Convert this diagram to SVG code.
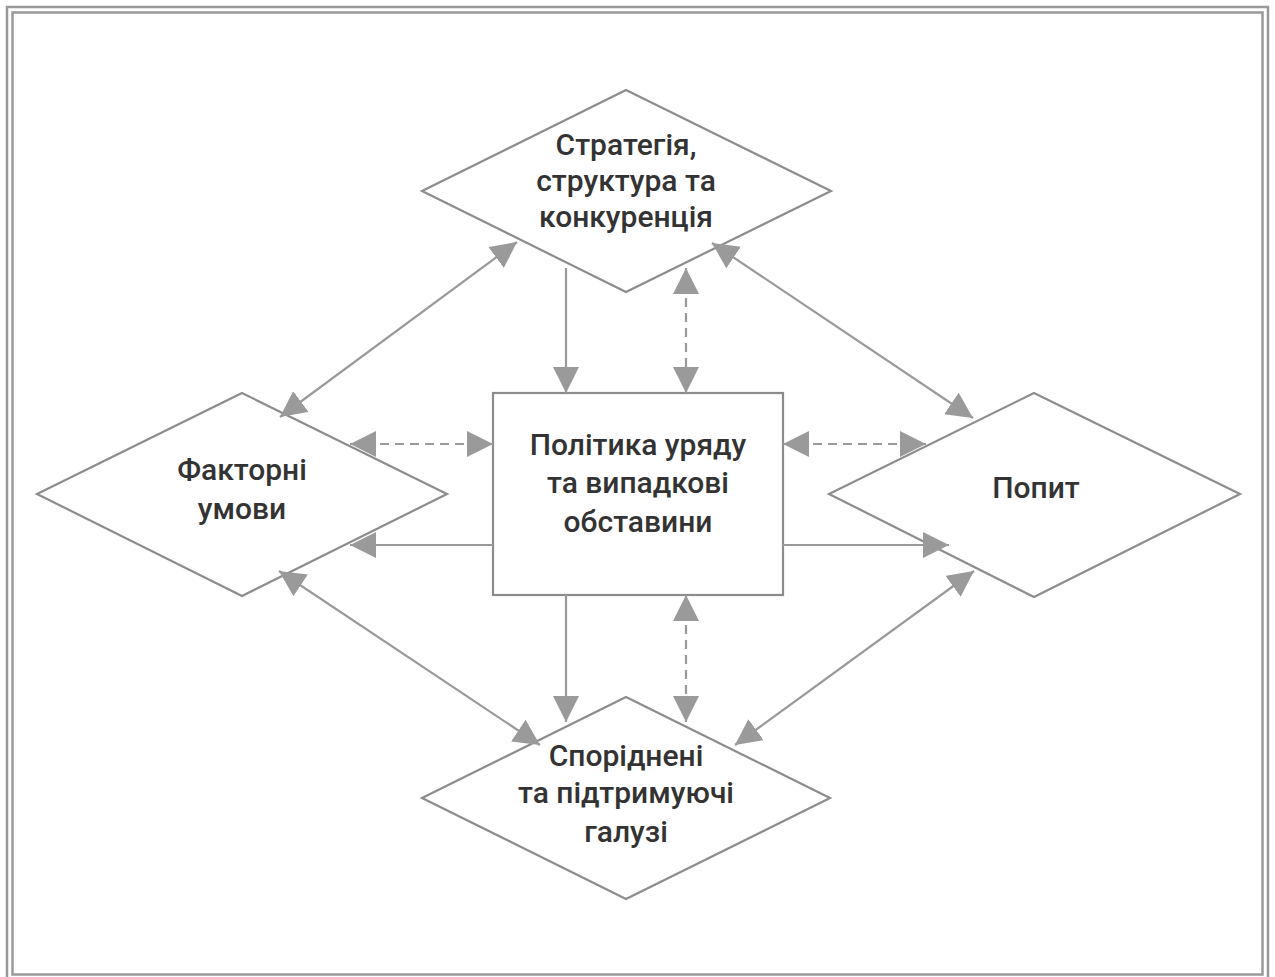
<svg xmlns="http://www.w3.org/2000/svg" width="1275" height="977" viewBox="0 0 1275 977">
  <style>
    .frame { fill: none; stroke: #999999; stroke-width: 2.5; }
    .shape { fill: #ffffff; stroke: #8c8c8c; stroke-width: 2.2; }
    .link { fill: none; stroke: #9a9a9a; stroke-width: 2.2; }
    .dash { stroke-dasharray: 9 6; }
    .label { font-family: Roboto, "Liberation Sans", sans-serif; font-size: 30px; font-weight: 500; fill: #333333; text-anchor: middle; }
  </style>
  <defs>
    <marker id="head" markerUnits="userSpaceOnUse" markerWidth="26" markerHeight="26" viewBox="0 0 26 26" refX="26" refY="13" orient="auto-start-reverse">
      <path d="M0,0 L26,13 L0,26 Z" fill="#9a9a9a"/>
    </marker>
  </defs>

  <rect width="1275" height="977" fill="#ffffff"/>

  <!-- double border -->
  <rect class="frame" x="7" y="7" width="1261" height="975"/>
  <rect class="frame" x="12.5" y="12.5" width="1250" height="962"/>

  <g id="strategy">
    <polygon class="shape" points="626,90 831,191 626,292 422,191"/>
    <text class="label" x="626" y="155">Стратегія,</text>
    <text class="label" x="626" y="191">структура та</text>
    <text class="label" x="626" y="227">конкуренція</text>
  </g>

  <g id="factors">
    <polygon class="shape" points="242,393 447,494 242,596 37,494"/>
    <text class="label" x="242" y="480">Факторні</text>
    <text class="label" x="242" y="519">умови</text>
  </g>

  <g id="demand">
    <polygon class="shape" points="1034,393 1240,494 1034,597 829,494"/>
    <text class="label" x="1036" y="498">Попит</text>
  </g>

  <g id="related">
    <polygon class="shape" points="626,697 830,798 626,899 422,798"/>
    <text class="label" x="626" y="766">Споріднені</text>
    <text class="label" x="626" y="803">та підтримуючі</text>
    <text class="label" x="626" y="842">галузі</text>
  </g>

  <g id="government">
    <rect class="shape" x="493" y="393" width="290" height="202"/>
    <text class="label" x="638" y="455">Політика уряду</text>
    <text class="label" x="638" y="493">та випадкові</text>
    <text class="label" x="638" y="532">обставини</text>
  </g>

  <g id="connectors">
    <!-- strategy to government -->
    <line class="link" x1="566" y1="268" x2="566" y2="393" marker-end="url(#head)"/>
    <line class="link dash" x1="686" y1="268" x2="686" y2="393" marker-start="url(#head)" marker-end="url(#head)"/>
    <!-- government to related industries -->
    <line class="link" x1="566" y1="595" x2="566" y2="722" marker-end="url(#head)"/>
    <line class="link dash" x1="686" y1="595" x2="686" y2="722" marker-start="url(#head)" marker-end="url(#head)"/>
    <!-- government to factor conditions -->
    <line class="link dash" x1="350" y1="444" x2="493" y2="444" marker-start="url(#head)" marker-end="url(#head)"/>
    <line class="link" x1="493" y1="545" x2="350" y2="545" marker-end="url(#head)"/>
    <!-- government to demand -->
    <line class="link dash" x1="783" y1="444" x2="926" y2="444" marker-start="url(#head)" marker-end="url(#head)"/>
    <line class="link" x1="783" y1="545" x2="949" y2="545" marker-end="url(#head)"/>
    <!-- diamond ring -->
    <line class="link" x1="280" y1="417" x2="517" y2="242" marker-start="url(#head)" marker-end="url(#head)"/>
    <line class="link" x1="712" y1="243" x2="973" y2="418" marker-start="url(#head)" marker-end="url(#head)"/>
    <line class="link" x1="279" y1="571" x2="540" y2="745" marker-start="url(#head)" marker-end="url(#head)"/>
    <line class="link" x1="974" y1="571" x2="735" y2="745" marker-start="url(#head)" marker-end="url(#head)"/>
  </g>
</svg>
